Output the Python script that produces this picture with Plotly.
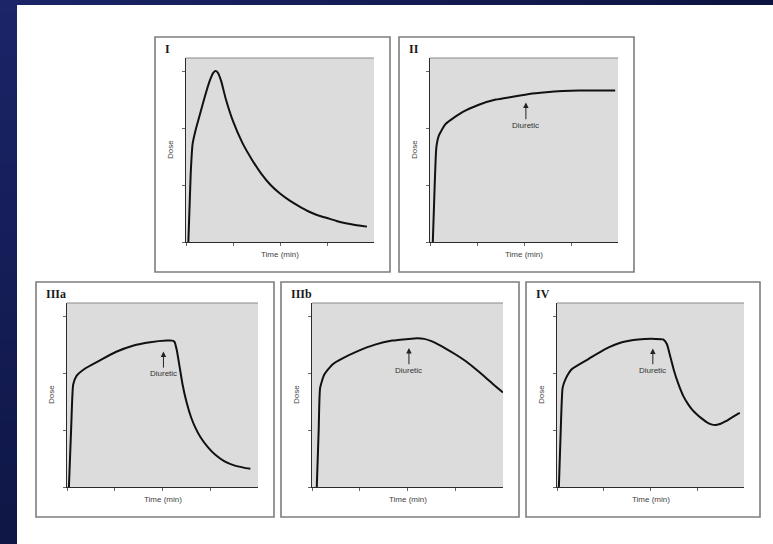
import plotly.graph_objects as go

# ---------------------------------------------------------------
# Dose-versus-time response curves (schematic), five panels
# ---------------------------------------------------------------

panel_labels = ["I", "II", "IIIa", "IIIb", "IV"]

time_I = [0.05, 0.10, 0.14, 0.20, 0.30, 0.40, 0.50, 0.58, 0.63, 0.68, 0.75, 0.85,
          1.00, 1.20, 1.40, 1.60, 1.80, 2.00, 2.20, 2.40, 2.60, 2.80, 3.00, 3.20,
          3.40, 3.60, 3.85]
dose_I = [0.00, 1.20, 1.72, 1.95, 2.25, 2.55, 2.82, 2.97, 3.00, 2.97, 2.82, 2.50,
          2.12, 1.74, 1.45, 1.20, 1.00, 0.85, 0.73, 0.63, 0.54, 0.47, 0.42, 0.37,
          0.33, 0.30, 0.27]

time_II = [0.06, 0.10, 0.135, 0.19, 0.33, 0.69, 1.04, 1.40, 1.76, 2.11, 2.47,
           2.82, 3.18, 3.53, 3.94]
dose_II = [0.00, 1.00, 1.66, 1.87, 2.07, 2.28, 2.41, 2.50, 2.55, 2.60, 2.63,
           2.65, 2.66, 2.66, 2.66]

time_IIIa = [0.04, 0.09, 0.13, 0.20, 0.38, 0.66, 1.02, 1.38, 1.74, 2.09, 2.20,
             2.25, 2.30, 2.36, 2.42, 2.50, 2.60, 2.70, 2.80, 2.95, 3.10, 3.30,
             3.50, 3.70, 3.84]
dose_IIIa = [0.00, 1.10, 1.80, 1.95, 2.08, 2.21, 2.37, 2.48, 2.54, 2.57, 2.57,
             2.55, 2.40, 2.10, 1.80, 1.50, 1.22, 1.02, 0.87, 0.70, 0.57, 0.45,
             0.38, 0.34, 0.32]

time_IIIb = [0.10, 0.14, 0.17, 0.26, 0.44, 0.62, 0.97, 1.32, 1.68, 2.03, 2.20,
             2.35, 2.50, 2.65, 2.80, 3.00, 3.20, 3.40, 3.60, 3.80, 4.00]
dose_IIIb = [0.00, 1.00, 1.74, 1.98, 2.16, 2.25, 2.39, 2.50, 2.57, 2.60, 2.61,
             2.60, 2.56, 2.50, 2.43, 2.33, 2.22, 2.09, 1.95, 1.80, 1.66]

time_IV = [0.04, 0.08, 0.12, 0.18, 0.32, 0.68, 1.03, 1.39, 1.74, 2.10, 2.27,
           2.35, 2.42, 2.50, 2.60, 2.70, 2.80, 2.90, 3.00, 3.10, 3.20, 3.30,
           3.40, 3.50, 3.60, 3.70, 3.80, 3.91]
dose_IV = [0.00, 1.00, 1.74, 1.89, 2.07, 2.25, 2.42, 2.54, 2.59, 2.60, 2.59,
           2.51, 2.30, 2.05, 1.80, 1.60, 1.46, 1.35, 1.27, 1.20, 1.14, 1.10,
           1.09, 1.11, 1.15, 1.20, 1.25, 1.30]

series_time = [time_I, time_II, time_IIIa, time_IIIb, time_IV]
series_dose = [dose_I, dose_II, dose_IIIa, dose_IIIb, dose_IV]

# Diuretic markers: panel index, time, arrow tip, label centre
diuretic_panel = [1, 2, 3, 4]
diuretic_time = [2.04, 2.02, 2.03, 2.05]
diuretic_tip = [2.45, 2.38, 2.44, 2.43]
diuretic_label = [2.05, 1.99, 2.05, 2.05]

axis_ticks = [0, 1, 2, 3]
x_range = [0, 4]
y_range = [0, 3.23]

# ---------------------------------------------------------------
W, H = 773, 544
# frame boxes in pixels: left, top, right, bottom
frames = [
    (155, 37, 390, 272),
    (399, 37, 634, 272),
    (36, 282, 274, 517),
    (281, 282, 519, 517),
    (526, 282, 760, 517),
]
PAD_L, PAD_R, PAD_T, PAD_B = 31, 16, 21, 30


def px(x):
    return x / W


def py(y):
    return 1 - y / H


fig = go.Figure()
shapes = []
annotations = []
layout_axes = {}

# dark blue gradient strips along the left and top edges
n_steps = 40
for k in range(n_steps):
    t = k / (n_steps - 1)
    r = int(27 + (15 - 27) * t)
    g = int(37 + (23 - 37) * t)
    b = int(104 + (70 - 104) * t)
    col = f"rgb({r},{g},{b})"
    y_top = H * k / n_steps
    y_bot = min(H, H * (k + 1) / n_steps + 2)
    shapes.append(dict(type="rect", xref="paper", yref="paper",
                       x0=0, x1=px(17), y0=py(y_bot), y1=py(y_top),
                       fillcolor=col, line=dict(width=0), layer="below"))
    r2 = int(27 + (14 - 27) * t)
    g2 = int(37 + (20 - 37) * t)
    b2 = int(104 + (64 - 104) * t)
    col2 = f"rgb({r2},{g2},{b2})"
    x_left = W * k / n_steps
    x_right = min(W, W * (k + 1) / n_steps + 2)
    shapes.append(dict(type="rect", xref="paper", yref="paper",
                       x0=px(x_left), x1=px(x_right), y0=py(5), y1=1,
                       fillcolor=col2, line=dict(width=0), layer="below"))

for i, (fl, ft, fr, fb) in enumerate(frames):
    n = i + 1
    xa = "xaxis" if n == 1 else f"xaxis{n}"
    ya = "yaxis" if n == 1 else f"yaxis{n}"
    xr = "x" if n == 1 else f"x{n}"
    yr = "y" if n == 1 else f"y{n}"
    pl, pr, pt, pb = fl + PAD_L, fr - PAD_R, ft + PAD_T, fb - PAD_B

    common = dict(showgrid=False, zeroline=False, showline=True,
                  linecolor="#2b2b2b", linewidth=1.3, ticks="outside",
                  ticklen=3, tickwidth=1, tickcolor="#666",
                  tickvals=axis_ticks, showticklabels=False, fixedrange=True)
    layout_axes[xa] = dict(domain=[px(pl), px(pr)], range=x_range, anchor=yr, **common)
    layout_axes[ya] = dict(domain=[py(pb), py(pt)], range=y_range, anchor=xr, **common)

    fig.add_trace(go.Scatter(
        x=series_time[i], y=series_dose[i], mode="lines",
        line=dict(color="#111111", width=2, shape="spline", smoothing=0.5),
        xaxis=xr, yaxis=yr, showlegend=False, hoverinfo="skip"))

    # outer frame
    shapes.append(dict(type="rect", xref="paper", yref="paper",
                       x0=px(fl), x1=px(fr), y0=py(fb), y1=py(ft),
                       line=dict(color="#7d7d7d", width=1.6)))
    # upper edge of the plotting area
    shapes.append(dict(type="line", xref="paper", yref="paper",
                       x0=px(pl), x1=px(pr), y0=py(pt), y1=py(pt),
                       line=dict(color="#8a8a8a", width=1.2)))

    annotations.append(dict(text="<b>" + panel_labels[i] + "</b>", xref="paper", yref="paper",
                            x=px(fl + 8), y=py(ft + 12), xanchor="left", yanchor="middle",
                            showarrow=False,
                            font=dict(family="Liberation Serif", size=12, color="#1a1a1a")))
    annotations.append(dict(text="Dose", xref="paper", yref="paper",
                            x=px(fl + 15), y=py((pt + pb) / 2), textangle=-90,
                            xanchor="center", yanchor="middle", showarrow=False,
                            font=dict(family="Liberation Sans", size=8, color="#444")))
    annotations.append(dict(text="Time (min)", xref="paper", yref="paper",
                            x=px((pl + pr) / 2), y=py(pb + 12),
                            xanchor="center", yanchor="middle", showarrow=False,
                            font=dict(family="Liberation Sans", size=8, color="#444")))

for k, n in enumerate(diuretic_panel):
    n1 = n + 1
    xr = f"x{n1}"
    yr = f"y{n1}"
    annotations.append(dict(text="Diuretic", xref=xr, yref=yr,
                            x=diuretic_time[k], y=diuretic_tip[k],
                            ax=diuretic_time[k], ay=diuretic_label[k],
                            axref=xr, ayref=yr, showarrow=True,
                            arrowhead=2, arrowsize=1.1, arrowwidth=1,
                            arrowcolor="#222", standoff=0,
                            font=dict(family="Liberation Sans", size=8, color="#333")))

fig.update_layout(
    width=W, height=H,
    margin=dict(l=0, r=0, t=0, b=0),
    paper_bgcolor="white",
    plot_bgcolor="#dcdcdc",
    shapes=shapes,
    annotations=annotations,
    showlegend=False,
    **layout_axes,
)

fig.write_html("out.html")
